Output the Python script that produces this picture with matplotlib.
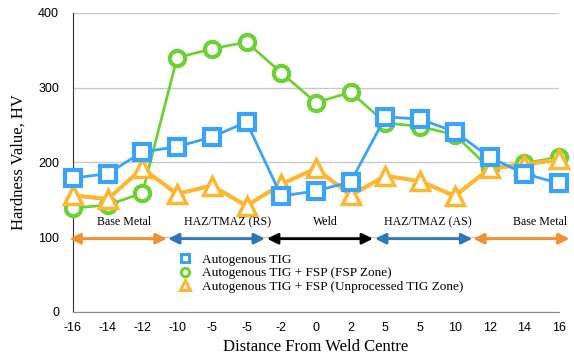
import matplotlib.pyplot as plt
from matplotlib.patches import FancyArrowPatch

# categories (distance from weld centre), note the repeated labels
tick_labels = ["-16", "-14", "-12", "-10", "-5", "-5", "-2", "0", "2",
               "5", "5", "10", "12", "14", "16"]

tig = [179, 185, 214, 221, 234, 254, 155, 162, 174, 261, 258, 241, 207, 185, 172]
fsp_zone = [139, 143, 159, 340, 352, 361, 320, 280, 294, 253, 248, 237, 192, 199, 207]
fsp_unprocessed = [156, 151, 192, 158, 169, 142, 171, 192, 156, 182, 175, 155, 192, 197, 204]

series_names = ["Autogenous TIG",
                "Autogenous TIG + FSP (FSP Zone)",
                "Autogenous TIG + FSP (Unprocessed TIG Zone)"]

# zone annotations: (label, start, end, colour)
zones = [("Base Metal", -0.1, 2.7, "#F0902E"),
         ("HAZ/TMAZ (RS)", 2.74, 5.53, "#2D76B8"),
         ("Weld", 5.59, 8.64, "black"),
         ("HAZ/TMAZ (AS)", 8.7, 11.5, "#2D76B8"),
         ("Base Metal", 11.53, 14.3, "#F0902E")]
zone_label_x = [1.47, 4.45, 7.26, 10.23, 13.45]

serif = ["Liberation Serif", "DejaVu Serif"]
sans = ["Liberation Sans", "DejaVu Sans"]

fig = plt.figure(figsize=(5.74, 3.59), dpi=100)
ax = fig.add_axes([0.127, 0.131, 0.847, 0.833])

x = list(range(len(tick_labels)))
ax.plot(x, fsp_zone, color="#6CD233", lw=2, marker="o", ms=11, mew=3,
        mfc="white", mec="#6CD233", label=series_names[1], zorder=3, clip_on=False)
ax.plot(x, fsp_unprocessed, color="#FBB731", lw=3, marker="^", ms=13, mew=2.5,
        mfc="white", mec="#FBB731", label=series_names[2], zorder=3, clip_on=False)
ax.plot(x, tig, color="#3AA3F7", lw=2, marker="s", ms=11, mew=3,
        mfc="white", mec="#3AA3F7", label=series_names[0], zorder=4, clip_on=False)

for (name, x0, x1, c), lx in zip(zones, zone_label_x):
    arr = FancyArrowPatch((x0, 98), (x1, 98), arrowstyle="<|-|>", mutation_scale=16,
                          color=c, lw=2, clip_on=False, shrinkA=0, shrinkB=0, zorder=5)
    ax.add_patch(arr)
    ax.text(lx, 120, name, ha="center", va="center", fontsize=8.6, family=serif)

ax.set_xlim(0, 14)
ax.set_ylim(0, 400)
ax.set_yticks([0, 100, 200, 300, 400])
ax.set_xticks(x)
ax.set_xticklabels(tick_labels)
for lab in ax.get_xticklabels() + ax.get_yticklabels():
    lab.set_family(sans)
    lab.set_fontsize(9)
ax.tick_params(axis="x", length=0, pad=7)
ax.tick_params(axis="y", length=0, pad=10)
ax.grid(axis="y", color="#C8C8C8", lw=1)
ax.set_axisbelow(True)
for s in ["top", "right"]:
    ax.spines[s].set_visible(False)
ax.spines["left"].set_color("#333333")
ax.spines["bottom"].set_color("#888888")

ax.set_xlabel("Distance From Weld Centre", family=serif, fontsize=12, labelpad=4)
ax.set_ylabel("Hardness Value, HV", family=serif, fontsize=12, labelpad=8)

h, l = ax.get_legend_handles_labels()
order = [2, 0, 1]
leg = ax.legend([h[i] for i in order], [l[i] for i in order], loc="upper left",
                bbox_to_anchor=(0.216, 0.196), frameon=False, prop={"family": serif, "size": 9.5},
                markerscale=0.55, handlelength=1.1, handletextpad=0.75, labelspacing=0.1,
                borderpad=0, borderaxespad=0)
for lh in leg.get_lines():
    lh.set_linewidth(0)
    lh.set_markeredgewidth(2.2)

fig.savefig("out.png", dpi=100)
